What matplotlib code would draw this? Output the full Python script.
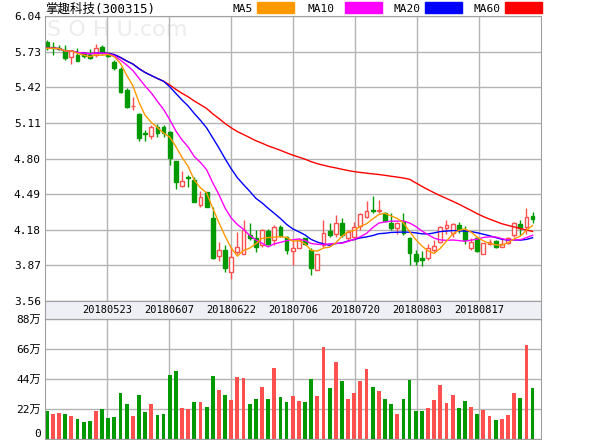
import matplotlib
matplotlib.use("Agg")
import matplotlib.pyplot as plt
from matplotlib.patches import Rectangle
import pandas as pd

# 掌趣科技 daily K line, 80 trading days
opens = [5.81, 5.77, 5.76, 5.745, 5.68, 5.70, 5.71, 5.70, 5.70, 5.77,
         5.716, 5.643, 5.576, 5.396, 5.255, 5.19, 5.02, 4.996, 5.071, 5.077,
         5.033, 4.778, 4.56, 4.64, 4.612, 4.395, 4.51, 4.278, 3.95, 4.003,
         3.814, 3.988, 3.973, 4.133, 4.104, 4.046, 4.168, 4.09, 4.206, 4.118,
         3.997, 4.017, 4.104, 4.002, 3.834, 4.046, 4.171, 4.147, 4.235, 4.104,
         4.118, 4.211, 4.287, 4.356, 4.345, 4.33, 4.24, 4.197, 4.249, 4.104,
         3.967, 3.93, 3.938, 4.002, 4.075, 4.197, 4.153, 4.22, 4.176, 4.025,
         4.104, 3.967, 4.06, 4.081, 4.031, 4.066, 4.133, 4.229, 4.20, 4.298]
highs = [5.83, 5.81, 5.79, 5.79, 5.745, 5.76, 5.73, 5.75, 5.797, 5.79,
         5.72, 5.657, 5.60, 5.41, 5.338, 5.20, 5.048, 5.091, 5.10, 5.09,
         5.04, 4.778, 4.694, 4.656, 4.636, 4.519, 4.51, 4.374, 4.075, 4.046,
         4.031, 4.162, 4.269, 4.235, 4.182, 4.19, 4.19, 4.22, 4.22, 4.124,
         4.09, 4.104, 4.11, 4.017, 3.973, 4.269, 4.24, 4.307, 4.278, 4.176,
         4.249, 4.322, 4.432, 4.473, 4.438, 4.336, 4.322, 4.249, 4.33, 4.118,
         4.002, 3.996, 4.06, 4.089, 4.21, 4.264, 4.235, 4.249, 4.211, 4.104,
         4.118, 4.066, 4.10, 4.095, 4.104, 4.118, 4.249, 4.264, 4.365, 4.336]
lows = [5.745, 5.70, 5.74, 5.658, 5.62, 5.65, 5.672, 5.67, 5.687, 5.71,
        5.687, 5.57, 5.367, 5.237, 5.222, 4.955, 4.955, 4.967, 4.984, 4.984,
        4.743, 4.531, 4.555, 4.554, 4.42, 4.374, 4.374, 3.925, 3.91, 3.814,
        3.755, 3.973, 3.973, 4.09, 3.988, 4.031, 4.046, 4.046, 4.118, 3.973,
        3.872, 4.017, 4.046, 3.785, 3.828, 4.031, 4.118, 4.118, 4.118, 4.09,
        4.09, 4.176, 4.278, 4.322, 4.322, 4.249, 4.176, 4.147, 4.133, 3.872,
        3.872, 3.866, 3.915, 3.988, 4.066, 4.147, 4.118, 4.153, 4.06, 4.002,
        3.988, 3.967, 4.05, 4.017, 4.031, 4.06, 4.118, 4.133, 4.147, 4.235]
closes = [5.759, 5.76, 5.75, 5.672, 5.739, 5.652, 5.69, 5.672, 5.759, 5.716,
          5.692, 5.585, 5.382, 5.251, 5.258, 4.975, 5.012, 5.077, 5.025, 5.019,
          4.801, 4.598, 4.604, 4.63, 4.424, 4.467, 4.38, 3.93, 4.008, 3.843,
          3.944, 4.026, 4.182, 4.104, 4.031, 4.182, 4.06, 4.20, 4.124, 4.002,
          4.017, 4.09, 4.055, 3.843, 3.968, 4.148, 4.133, 4.235, 4.133, 4.162,
          4.205, 4.316, 4.342, 4.345, 4.356, 4.258, 4.197, 4.235, 4.153, 3.979,
          3.909, 3.92, 4.023, 4.037, 4.205, 4.22, 4.229, 4.182, 4.095, 4.075,
          3.996, 4.066, 4.075, 4.031, 4.06, 4.104, 4.235, 4.191, 4.287, 4.27]
# volume in 万 shares
volumes = [20.8, 18.6, 19.3, 18.6, 17.1, 14.9, 12.7, 13.4, 20.8, 22.2,
           15.6, 16.4, 34.0, 25.9, 17.1, 32.5, 20.0, 25.9, 17.8, 18.6,
           47.2, 50.1, 23.0, 22.2, 27.4, 27.4, 23.7, 46.4, 36.2, 32.5,
           28.8, 45.7, 45.0, 25.9, 29.6, 38.4, 29.6, 52.3, 31.0, 27.4,
           31.8, 28.1, 27.4, 44.2, 31.8, 67.7, 37.6, 56.7, 42.8, 29.6,
           34.0, 42.8, 51.6, 38.4, 35.4, 29.6, 25.9, 18.6, 29.6, 43.5,
           20.8, 20.8, 23.0, 28.8, 39.8, 26.6, 32.5, 23.0, 28.1, 23.7,
           18.6, 21.5, 17.1, 14.2, 14.9, 17.8, 34.0, 30.3, 69.2, 37.6]
vol_dir = ("GRRGRGGGRG" "GGGGRGGRGG" "GGRRGRGGRG" "RRRGGRGRGG"
           "RRGGRRGRGR" "RRRGRGGRGG" "GGRRRRRGGR" "GRRGRRRGRG")
date_labels = ["20180523", "20180607", "20180622", "20180706",
               "20180720", "20180803", "20180817"]
price_ticks = [3.56, 3.87, 4.18, 4.49, 4.80, 5.11, 5.42, 5.73, 6.04]
vol_ticks = [0, 22, 44, 66, 88]
ma_periods = [60, 20, 10, 5]
ma_colors = {5: "#ff9900", 10: "#ff00ff", 20: "#0000ff", 60: "#ff0000"}

RED = "#ff5050"
GREEN = "#009900"
GRID = "#b4b4b4"
MONO = ["DejaVu Sans Mono", "Noto Sans CJK SC"]

W, H = 600, 440
fig = plt.figure(figsize=(W / 100, H / 100), dpi=100)


def box(l, t, r, b):
    return [l / W, 1 - b / H, (r - l) / W, (b - t) / H]


ax = fig.add_axes(box(45, 16, 541, 301))
band = fig.add_axes(box(45, 301, 541, 319))
axv = fig.add_axes(box(45, 319, 541, 439))

n = len(closes)
xs = list(range(n))
xl = (-0.28, 80.37)
xgrid = [xl[0] + k * (xl[1] - xl[0]) / 8 for k in range(1, 8)]

# candles
for i in xs:
    o, h, l, c = opens[i], highs[i], lows[i], closes[i]
    up = c >= o
    col = RED if up else GREEN
    ax.vlines(i, l, h, color=col, lw=1, zorder=2)
    bot, hgt = min(o, c), max(abs(c - o), 0.001)
    ax.bar(i, hgt, bottom=bot, width=0.62, color="white" if up else col,
           edgecolor=col, lw=1, zorder=2.5)

# moving averages
s = pd.Series(closes)
for p in ma_periods:
    ma = s.rolling(p, min_periods=1).mean()
    ax.plot(xs, ma, color=ma_colors[p], lw=1, zorder=3)

ax.set_xlim(*xl)
ax.set_ylim(3.56, 6.04)
ax.set_yticks(price_ticks)
ax.set_yticklabels(["%.2f" % v for v in price_ticks], family=MONO, fontsize=8)
ax.set_xticks(xgrid)
ax.set_xticklabels([])
ax.tick_params(length=0, pad=3)
ax.grid(True, color=GRID, lw=1)
ax.set_axisbelow(True)
ax.text(0.005, 0.95, "S O H U.com", transform=ax.transAxes, fontsize=16,
        color="#ececec", zorder=0, va="center")

# date band
band.set_facecolor("#eef0f6")
band.set_xlim(*xl)
band.set_ylim(0, 1)
band.set_xticks([])
band.set_yticks([])
for x, d in zip(xgrid, date_labels):
    band.text(x, 0.5, d, ha="center", va="center", family=MONO, fontsize=7.5)

# volume
vcols = [RED if d == "R" else GREEN for d in vol_dir]
axv.bar(xs, volumes, width=0.62, color=vcols, zorder=2)
axv.set_xlim(*xl)
axv.set_ylim(0, 88)
axv.set_yticks(vol_ticks)
axv.set_yticklabels(["0" if v == 0 else "%d万" % v for v in vol_ticks],
                    family=MONO, fontsize=8)
axv.get_yticklabels()[0].set_va("bottom")
axv.set_xticks(xgrid)
axv.set_xticklabels([])
axv.tick_params(length=0, pad=3)
axv.grid(True, color=GRID, lw=1)
axv.set_axisbelow(True)

for a in (ax, band, axv):
    for sp in a.spines.values():
        sp.set_color("#a0a0a0")

# title and legend
fig.text(45 / W, 1 - 9 / H, "掌趣科技(300315)", family=MONO, fontsize=9,
         va="center", ha="left")
leg = [("MA5", 233, 257, 5), ("MA10", 308, 345, 10),
       ("MA20", 393, 425, 20), ("MA60", 474, 505, 60)]
for name, tx, bx, p in leg:
    fig.text(tx / W, 1 - 9 / H, name, family=MONO, fontsize=8, va="center")
    fig.patches.append(Rectangle((bx / W, 1 - 13.5 / H), 37 / W, 11 / H,
                                 transform=fig.transFigure,
                                 color=ma_colors[p]))

fig.savefig("out.png", dpi=100)
